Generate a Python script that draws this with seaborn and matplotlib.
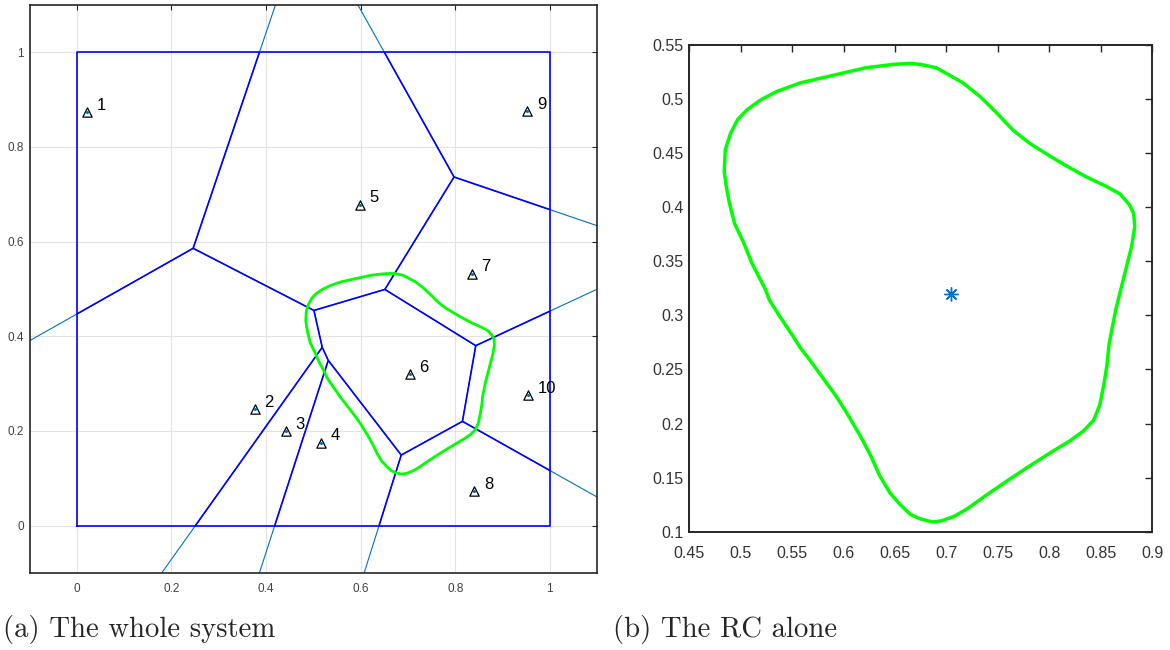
import numpy as np
import pandas as pd
import matplotlib
matplotlib.use("Agg")
import matplotlib.pyplot as plt
from matplotlib.collections import LineCollection
from matplotlib import font_manager
import seaborn as sns

# Sites of the Voronoi partition (unit square)
site_x = [0.022, 0.376, 0.442, 0.516, 0.598, 0.704, 0.835, 0.840, 0.952, 0.954]
site_y = [0.873, 0.246, 0.199, 0.175, 0.678, 0.320, 0.532, 0.073, 0.876, 0.276]
site_labels = ["1", "2", "3", "4", "5", "6", "7", "8", "9", "10"]

# Domain of the partition
domain = [0.0, 1.0]

# Boundary of the region of coverage around site 6
rc_x = [0.675, 0.665, 0.648, 0.622, 0.590, 0.558, 0.535, 0.519, 0.506, 0.497,
        0.490, 0.485, 0.484, 0.486, 0.489, 0.494, 0.503, 0.511, 0.524, 0.528,
        0.538, 0.550, 0.558, 0.567, 0.580, 0.593, 0.603, 0.616, 0.626, 0.635,
        0.645, 0.655, 0.665, 0.674, 0.686, 0.695, 0.707, 0.720, 0.739, 0.759,
        0.778, 0.801, 0.820, 0.833, 0.843, 0.849, 0.853, 0.856, 0.858, 0.861,
        0.865, 0.870, 0.875, 0.880, 0.883, 0.882, 0.878, 0.869, 0.856, 0.836,
        0.817, 0.801, 0.781, 0.765, 0.749, 0.733, 0.716, 0.703, 0.690]
rc_y = [0.532, 0.533, 0.532, 0.529, 0.522, 0.515, 0.507, 0.499, 0.490, 0.481,
        0.468, 0.453, 0.433, 0.419, 0.404, 0.385, 0.367, 0.348, 0.324, 0.314,
        0.299, 0.282, 0.270, 0.259, 0.242, 0.225, 0.210, 0.189, 0.171, 0.152,
        0.136, 0.125, 0.116, 0.112, 0.109, 0.110, 0.114, 0.121, 0.134, 0.147,
        0.159, 0.173, 0.184, 0.193, 0.203, 0.217, 0.236, 0.254, 0.273, 0.288,
        0.307, 0.326, 0.345, 0.364, 0.382, 0.394, 0.402, 0.412, 0.419, 0.428,
        0.438, 0.447, 0.459, 0.471, 0.487, 0.502, 0.515, 0.522, 0.529]

rc_center = 6  # label of the site owning the region

left_ticks = [0, 0.2, 0.4, 0.6, 0.8, 1]
left_ticklabels = ["0", "0.2", "0.4", "0.6", "0.8", "1"]
right_xticks = [0.45, 0.5, 0.55, 0.6, 0.65, 0.7, 0.75, 0.8, 0.85, 0.9]
right_xticklabels = ["0.45", "0.5", "0.55", "0.6", "0.65", "0.7", "0.75", "0.8", "0.85", "0.9"]
right_yticks = [0.1, 0.15, 0.2, 0.25, 0.3, 0.35, 0.4, 0.45, 0.5, 0.55]
right_yticklabels = ["0.1", "0.15", "0.2", "0.25", "0.3", "0.35", "0.4", "0.45", "0.5", "0.55"]

captions = ["(a) The whole system", "(b) The RC alone"]


def voronoi_segments(xs, ys, lo, hi):
    """Voronoi edges of the sites, clipped to the box [lo, hi]^2."""
    P = np.column_stack([xs, ys]).astype(float)
    n = len(P)
    segs = []
    for i in range(n):
        for j in range(i + 1, n):
            m = (P[i] + P[j]) / 2
            nv = P[j] - P[i]
            d = np.array([-nv[1], nv[0]])
            d /= np.linalg.norm(d)
            tmin, tmax = -np.inf, np.inf
            ok = True
            for k in range(n):
                if k in (i, j):
                    continue
                a = 2 * np.dot(d, P[k] - P[i])
                b = np.dot(P[k], P[k]) - np.dot(P[i], P[i]) - 2 * np.dot(m, P[k] - P[i])
                if abs(a) < 1e-12:
                    if b < 0:
                        ok = False
                        break
                elif a > 0:
                    tmax = min(tmax, b / a)
                else:
                    tmin = max(tmin, b / a)
            for c in range(2):
                if abs(d[c]) < 1e-12:
                    if not (lo <= m[c] <= hi):
                        ok = False
                else:
                    t1 = (lo - m[c]) / d[c]
                    t2 = (hi - m[c]) / d[c]
                    tmin = max(tmin, min(t1, t2))
                    tmax = min(tmax, max(t1, t2))
            if ok and tmax > tmin + 1e-9:
                segs.append([m + tmin * d, m + tmax * d])
    return segs


sns.set_style("white")
available = {f.name for f in font_manager.fontManager.ttflist}
sans = "Liberation Sans" if "Liberation Sans" in available else "DejaVu Sans"
narrow = next((f for f in ["Liberation Sans Narrow", "DejaVu Sans Condensed"] if f in available), None)
plt.rcParams["font.family"] = [sans, "DejaVu Sans"]

matlab_blue = "#0072BD"
edge_gray = "#262626"
green = "#00FF00"

fig = plt.figure(figsize=(11.7, 6.5), dpi=100)
ax1 = fig.add_axes([0.0253, 0.1185, 0.485, 0.8738])
ax2 = fig.add_axes([0.5891, 0.182, 0.3957, 0.7488])

# ---------- (a) whole system ----------
outer = voronoi_segments(site_x, site_y, -1.0, 2.0)
inner = voronoi_segments(site_x, site_y, domain[0], domain[1])
ax1.add_collection(LineCollection(outer, colors=matlab_blue, linewidths=0.8, zorder=2))
ax1.add_collection(LineCollection(inner, colors="#0000FF", linewidths=1.2, zorder=3))
sq_x = [domain[0], domain[1], domain[1], domain[0], domain[0]]
sq_y = [domain[0], domain[0], domain[1], domain[1], domain[0]]
ax1.plot(sq_x, sq_y, color="#0000FF", lw=1.2, zorder=3)

rc = pd.DataFrame({"x": rc_x + rc_x[:1], "y": rc_y + rc_y[:1]})
sns.lineplot(data=rc, x="x", y="y", sort=False, estimator=None, color=green,
             lw=2.0, ax=ax1, zorder=4)

sites = pd.DataFrame({"x": site_x, "y": site_y, "label": site_labels})
sns.scatterplot(data=sites, x="x", y="y", marker="^", s=45, facecolor="white",
                edgecolor="black", linewidth=0.9, ax=ax1, zorder=5)
sns.scatterplot(data=sites, x="x", y="y", marker="o", s=5, color=matlab_blue,
                linewidth=0, ax=ax1, zorder=6)
for _, r in sites.iterrows():
    ax1.annotate(r["label"], (r["x"], r["y"]), xytext=(7, 5), textcoords="offset points",
                 ha="left", va="center", fontsize=12, color="black", zorder=7)

ax1.set_xlim(-0.1, 1.1)
ax1.set_ylim(-0.1, 1.1)
ax1.set_xticks(left_ticks, left_ticklabels)
ax1.set_yticks(left_ticks, left_ticklabels)
ax1.grid(True, color="#e2e2e2", lw=0.8, zorder=0)
ax1.set_axisbelow(True)
ax1.tick_params(direction="in", top=True, right=True, length=3.5, width=0.8,
                color=edge_gray, labelsize=8.5, labelcolor="#404040")
ax1.tick_params(axis="x", pad=7)
ax1.tick_params(axis="y", pad=4)
for s in ax1.spines.values():
    s.set_color(edge_gray)
    s.set_linewidth(1.2)
ax1.set_xlabel("")
ax1.set_ylabel("")

# ---------- (b) RC alone ----------
sns.lineplot(data=rc, x="x", y="y", sort=False, estimator=None, color=green,
             lw=2.5, ax=ax2, zorder=3)
cx = site_x[site_labels.index(str(rc_center))]
cy = site_y[site_labels.index(str(rc_center))]
ax2.plot([cx], [cy], marker=(8, 2, 0), markersize=10, color=matlab_blue,
         markeredgewidth=1.0, linestyle="none", zorder=4)
ax2.set_xlim(0.45, 0.9)
ax2.set_ylim(0.1, 0.55)
ax2.set_xticks(right_xticks, right_xticklabels)
ax2.set_yticks(right_yticks, right_yticklabels)
ax2.tick_params(direction="in", top=True, right=True, length=5, width=1.0,
                color=edge_gray, labelsize=12.5 if narrow else 11.5, labelcolor="#333333")
ax2.tick_params(axis="x", pad=10)
ax2.tick_params(axis="y", pad=4)
if narrow:
    for lab in ax2.get_xticklabels() + ax2.get_yticklabels():
        lab.set_family(narrow)
for s in ax2.spines.values():
    s.set_color(edge_gray)
    s.set_linewidth(1.4)
ax2.set_xlabel("")
ax2.set_ylabel("")

# ---------- captions ----------
fig.text(0.0025, 0.02, captions[0], family="cmr10", fontsize=20.7, ha="left", va="baseline")
fig.text(0.524, 0.02, captions[1], family="cmr10", fontsize=20.7, ha="left", va="baseline")

fig.savefig("out.png", dpi=100)
